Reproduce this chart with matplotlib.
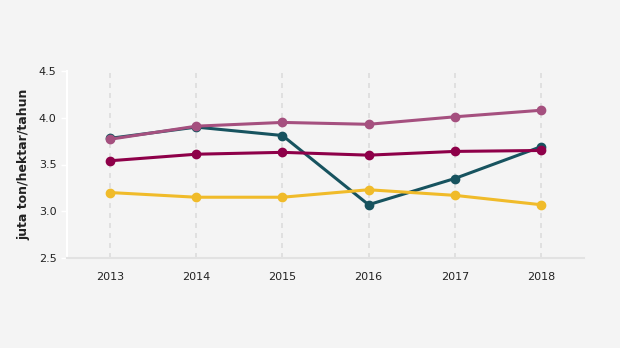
import matplotlib
matplotlib.use("Agg")
from matplotlib import pyplot as plt

years = [2013, 2014, 2015, 2016, 2017, 2018]
teal = [3.78, 3.90, 3.81, 3.07, 3.35, 3.69]
yellow = [3.20, 3.15, 3.15, 3.23, 3.17, 3.07]
crimson = [3.54, 3.61, 3.63, 3.60, 3.64, 3.65]
mauve = [3.77, 3.91, 3.95, 3.93, 4.01, 4.08]

bg = '#f4f4f4'
fig = plt.figure(figsize=(6.2, 3.48), dpi=100, facecolor=bg)
ax = fig.add_axes([67/620, 90/348, 517/620, 187/348], facecolor=bg)

for vals, col in [(teal, '#17535f'), (yellow, '#f0bb2a'),
                  (crimson, '#8e0049'), (mauve, '#a5507f')]:
    ax.plot(years, vals, color=col, lw=2.2, marker='o', ms=6,
            solid_capstyle='round')

ax.set_xlim(2012.5, 2018.5)
ax.set_ylim(2.5, 4.5)
ax.set_xticks(years)
ax.set_yticks([2.5, 3.0, 3.5, 4.0, 4.5])
ax.set_yticklabels(['2.5', '3.0', '3.5', '4.0', '4.5'])
ax.grid(axis='x', color='#dcdcdc', ls=(0, (3, 3)), lw=1.2)
ax.set_axisbelow(True)

for s in ['top', 'right']:
    ax.spines[s].set_visible(False)
ax.spines['left'].set_color('white')
ax.spines['left'].set_linewidth(1.5)
ax.spines['bottom'].set_color('#e2e2e2')
ax.spines['bottom'].set_linewidth(1.5)
ax.tick_params(axis='y', colors='white', labelcolor='#222222',
               labelsize=8, length=4, width=1)
ax.tick_params(axis='x', length=0, labelsize=8, labelcolor='#222222', pad=10)
ax.set_ylabel('juta ton/hektar/tahun', fontsize=9, fontweight='bold',
              color='#222222', labelpad=6)

fig.savefig('out.png', dpi=100, facecolor=bg)
